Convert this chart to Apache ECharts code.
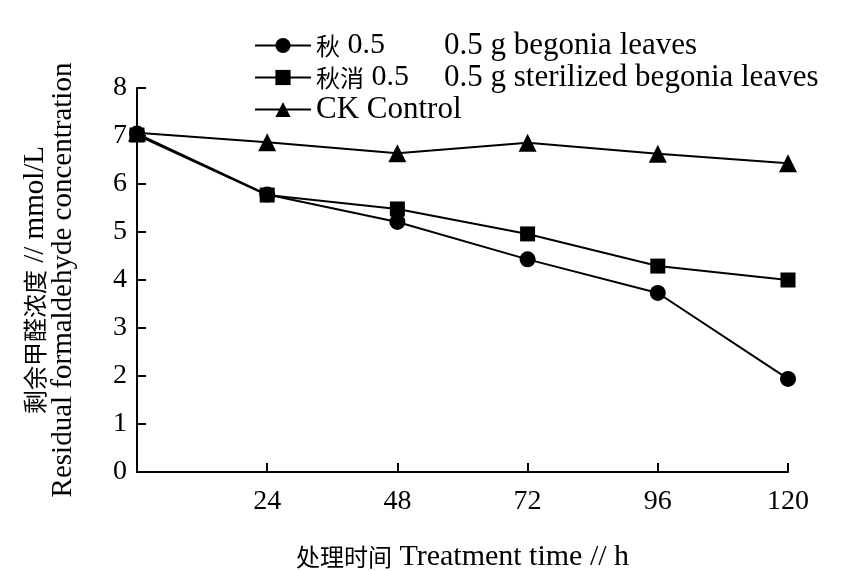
<!DOCTYPE html>
<html>
<head>
<meta charset="utf-8">
<script src="https://cdn.jsdelivr.net/npm/echarts@6/dist/echarts.min.js"></script>
<style>
  html, body { margin: 0; padding: 0; background: #fff; }
  #chart { width: 856px; height: 571px; }
</style>
</head>
<body>
<div id="chart"></div>
<script>
// Treatment time (h)
const hours = [0, 24, 48, 72, 96, 120];

// Residual formaldehyde concentration (mmol/L)
const begonia05 = [7.05, 5.78, 5.21, 4.43, 3.73, 1.94];
const sterilized05 = [7.02, 5.77, 5.48, 4.96, 4.29, 4.00];
const control = [7.07, 6.87, 6.64, 6.86, 6.63, 6.43];

// Series names and legend wording (Chinese code + English description)
const seriesNames = ['秋 0.5', '秋消 0.5', 'CK'];
const legendCodes = ['秋', '秋消', ''];
const legendDoses = ['0.5', '0.5', 'CK'];
const legendDescriptions = ['0.5 g begonia leaves', '0.5 g sterilized begonia leaves', 'Control'];

const xTicks = [24, 48, 72, 96, 120];
const yTicks = [0, 1, 2, 3, 4, 5, 6, 7, 8];

const LATIN = '"Liberation Serif", "Times New Roman", serif';
const CJK = '"Noto Sans CJK SC", sans-serif';

const symbols = ['circle', 'rect', 'triangle'];
const symbolSizes = [16, 15, 18];
const valueSets = [begonia05, sterilized05, control];

const series = valueSets.map((vals, i) => ({
  name: seriesNames[i],
  type: 'line',
  data: hours.map((h, k) => [h, vals[k]]),
  symbol: symbols[i],
  symbolSize: symbolSizes[i],
  itemStyle: { color: '#000' },
  lineStyle: { color: '#000', width: 2 },
  z: 3 + (i === 1 ? 2 : i === 2 ? 1 : 0)
}));

function legendLabel(name) {
  const i = seriesNames.indexOf(name);
  if (!legendCodes[i]) {
    return '{d|' + legendDoses[i] + ' ' + legendDescriptions[i] + '}';
  }
  const first = i === 0 ? 'w1' : 'w2';
  return '{c|' + legendCodes[i] + '}{' + first + '| ' + legendDoses[i] + '}{d|' + legendDescriptions[i] + '}';
}

const chart = echarts.init(document.getElementById('chart'));
chart.setOption({
  animation: false,
  backgroundColor: '#fff',
  grid: { left: 137, right: 68, top: 88, bottom: 99, outerBoundsMode: 'none', containLabel: false },
  legend: {
    orient: 'vertical',
    left: 254,
    top: 30,
    padding: 0,
    itemWidth: 56,
    itemHeight: 19,
    itemGap: 1,
    data: seriesNames,
    formatter: legendLabel,
    textStyle: {
      color: '#000',
      rich: {
        c: { fontFamily: CJK, fontSize: 24, lineHeight: 30, color: '#000' },
        w1: { fontFamily: LATIN, fontSize: 30, lineHeight: 30, width: 104, color: '#000' },
        w2: { fontFamily: LATIN, fontSize: 30, lineHeight: 30, width: 80, color: '#000' },
        d: { fontFamily: LATIN, fontSize: 31, lineHeight: 30, color: '#000' }
      }
    }
  },
  xAxis: {
    type: 'value',
    min: 0,
    max: 120,
    interval: 24,
    name: '{c|处理时间}{l| Treatment time // h}',
    nameLocation: 'middle',
    nameGap: 70,
    nameTextStyle: {
      rich: {
        c: { fontFamily: CJK, fontSize: 24, lineHeight: 30, color: '#000' },
        l: { fontFamily: LATIN, fontSize: 30, lineHeight: 30, color: '#000' }
      }
    },
    axisLine: { lineStyle: { color: '#000', width: 2 } },
    axisTick: { inside: true, length: 9, lineStyle: { color: '#000', width: 2 } },
    splitLine: { show: false },
    axisLabel: {
      margin: 16,
      fontFamily: LATIN,
      fontSize: 28,
      color: '#000',
      formatter: v => (xTicks.indexOf(v) >= 0 ? String(v) : '')
    }
  },
  yAxis: {
    type: 'value',
    min: 0,
    max: 8,
    interval: 1,
    name: '{c|剩余甲醛浓度}{l| // mmol/L}\n{l|Residual formaldehyde concentration}',
    nameLocation: 'middle',
    nameRotate: 90,
    nameGap: 60,
    nameTextStyle: {
      rich: {
        c: { fontFamily: CJK, fontSize: 24, lineHeight: 28, color: '#000' },
        l: { fontFamily: LATIN, fontSize: 29, lineHeight: 28, color: '#000' }
      }
    },
    axisLine: { show: true, lineStyle: { color: '#000', width: 2 } },
    axisTick: { show: true, inside: true, length: 9, lineStyle: { color: '#000', width: 2 } },
    splitLine: { show: false },
    axisLabel: {
      margin: 10,
      fontFamily: LATIN,
      fontSize: 28,
      color: '#000',
      formatter: v => (yTicks.indexOf(v) >= 0 ? String(v) : '')
    }
  },
  series: series
});
</script>
</body>
</html>
